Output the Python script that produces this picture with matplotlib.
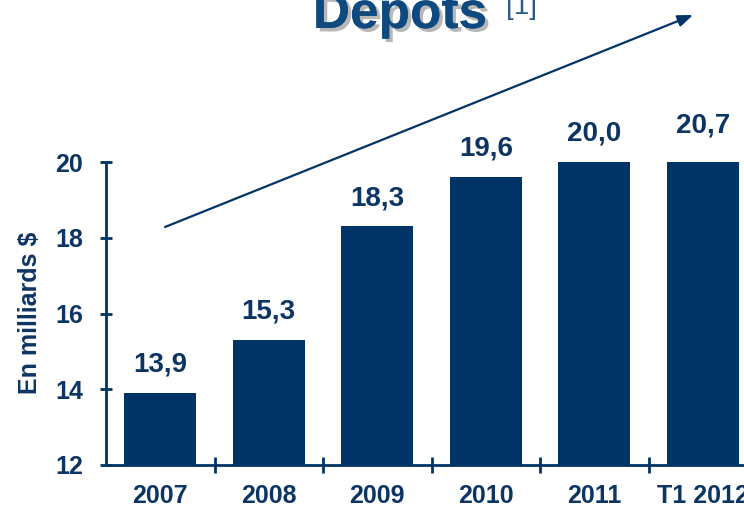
import matplotlib
matplotlib.use("Agg")
import matplotlib.pyplot as plt
import matplotlib.patheffects as pe

plt.rcParams['font.family'] = ['Liberation Sans', 'DejaVu Sans']
plt.rcParams['font.weight'] = 'bold'

# Dépôts annuels (milliards $)
annees = ["2007", "2008", "2009", "2010", "2011", "T1 2012"]
depots = [13.9, 15.3, 18.3, 19.6, 20.0, 20.7]
etiquettes = ["13,9", "15,3", "18,3", "19,6", "20,0", "20,7"]
graduations_y = [12, 14, 16, 18, 20]

NAVY = "#003366"
TEXTE = "#0D3563"
Y_MIN, Y_MAX = 12, 20

fig = plt.figure(figsize=(7.44, 5.07), dpi=100)
ax = fig.add_axes([106 / 744, 42 / 507, 651 / 744, 303 / 507])

x = list(range(len(annees)))
ax.bar(x, depots, width=0.66, color=NAVY, bottom=0)
ax.set_ylim(Y_MIN, Y_MAX)
ax.set_xlim(-0.5, len(annees) - 0.5)

# valeurs au-dessus des barres (les barres coupées à 20 gardent leur étiquette un peu plus haut)
for xi, v, lab in zip(x, depots, etiquettes):
    haut = min(v, Y_MAX)
    decal = 11 if v <= Y_MAX else 17
    ax.annotate(lab, (xi, haut), xytext=(0, decal), textcoords="offset points",
                ha="center", va="bottom", fontsize=20, fontweight="bold",
                color=TEXTE, annotation_clip=False)

# axes
for s in ["top", "right"]:
    ax.spines[s].set_visible(False)
for s in ["left", "bottom"]:
    ax.spines[s].set_color(NAVY)
    ax.spines[s].set_linewidth(2)

ax.set_yticks(graduations_y)
ax.set_yticklabels([str(g) for g in graduations_y])
ax.tick_params(axis="y", direction="inout", length=9, width=2, color=NAVY,
               labelsize=18, labelcolor=TEXTE, pad=12)

ax.set_xticks(x)
ax.set_xticklabels(annees)
ax.tick_params(axis="x", which="major", length=0, labelsize=18, labelcolor=TEXTE, pad=14)
ax.set_xticks([i + 0.5 for i in x], minor=True)
ax.tick_params(axis="x", which="minor", direction="inout", length=11, width=2, color=NAVY)
for lab in ax.get_xticklabels() + ax.get_yticklabels():
    lab.set_fontweight("bold")

fig.text(30 / 744, 1 - 313 / 507, "En milliards $", rotation=90, ha="center", va="center",
         fontsize=18, fontweight="bold", color=TEXTE)

# titre avec ombre portée
titre = fig.text(400 / 744, 1 - 28 / 507, "Depots", ha="center", va="baseline",
                 fontsize=37, fontweight="bold", color="#0E4A80")
titre.set_path_effects([pe.withSimplePatchShadow(offset=(2.5, -2.5), shadow_rgbFace="#999999", alpha=0.7),
                        pe.Normal()])
fig.text(506 / 744, 1 - 14 / 507, "[1]", ha="left", va="baseline",
         fontsize=20, fontweight="normal", color="#2A5A8C")

# flèche de tendance
ax.annotate("", xy=(693 / 744, 1 - 15 / 507), xytext=(165 / 744, 1 - 227 / 507),
            xycoords="figure fraction", textcoords="figure fraction",
            arrowprops=dict(arrowstyle="-|>,head_length=0.9,head_width=0.35",
                            color=NAVY, lw=1.6, shrinkA=0, shrinkB=0))

fig.savefig("out.png", dpi=100)
